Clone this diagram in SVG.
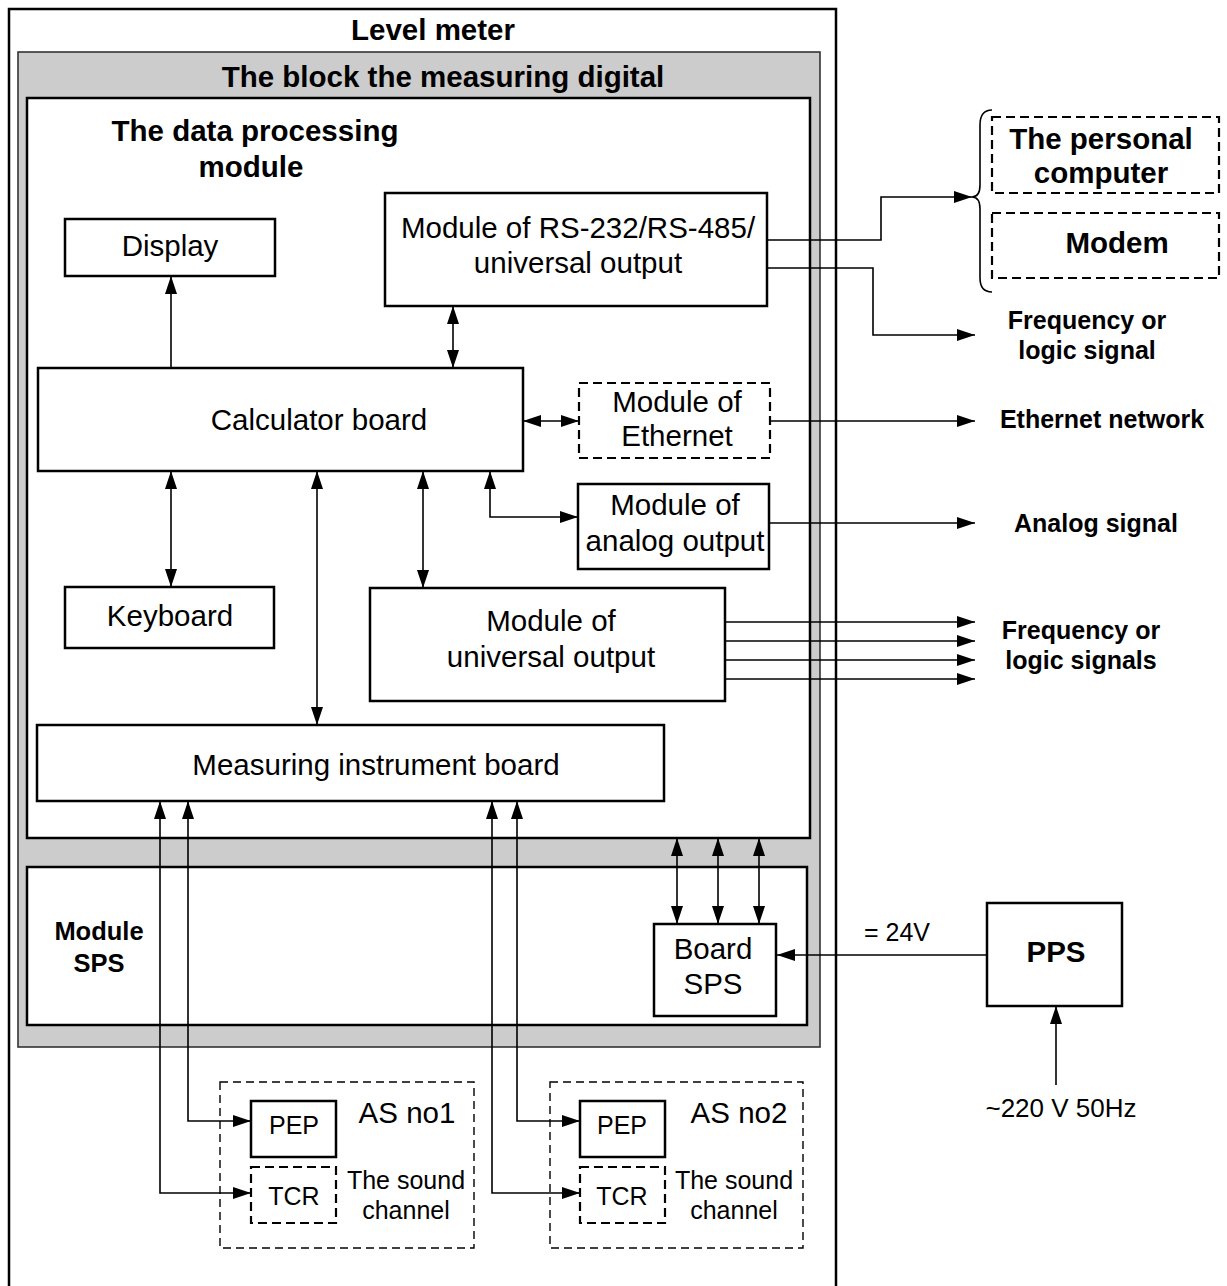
<svg xmlns="http://www.w3.org/2000/svg" width="1227" height="1286" viewBox="0 0 1227 1286">
<defs>
<marker id="ah" viewBox="0 0 18 12" refX="18" refY="6" markerWidth="18" markerHeight="12" orient="auto-start-reverse" markerUnits="userSpaceOnUse"><path d="M0,0 L18,6 L0,12 z" fill="#000"/></marker>
<style>
.box{fill:#fff;stroke:#000;stroke-width:2.5}
.dbox{fill:#fff;stroke:#000;stroke-width:2.2;stroke-dasharray:9,5}
.tbox{fill:none;stroke:#000;stroke-width:1.4;stroke-dasharray:8,5}
.ln{fill:none;stroke:#000;stroke-width:1.6}
.a{marker-end:url(#ah)}
.aa{marker-start:url(#ah);marker-end:url(#ah)}
text{font-family:"Liberation Sans",Arial,sans-serif;fill:#000;text-anchor:middle}
.r28{font-size:29.5px}
.b28{font-size:29.5px;font-weight:bold}
.b24{font-size:25px;font-weight:bold}
.b25{font-size:25.5px;font-weight:bold}
.r25{font-size:25px}
.r26{font-size:26px}
</style>
</defs>
<rect width="1227" height="1286" fill="#fff"/>
<g id="level-meter">
<path d="M9,1300 V9 H836 V1300" fill="none" stroke="#000" stroke-width="2.5"/>
<text class="b28" x="433" y="40">Level meter</text>
</g>
<g id="block-measuring-digital">
<rect x="18" y="52" width="802" height="995" fill="#cccccc" stroke="#333" stroke-width="1.6"/>
<text class="b28" x="443" y="87">The block the measuring digital</text>
</g>
<g id="data-processing-module">
<rect class="box" x="27" y="98" width="783" height="740"/>
<text class="b28" x="255" y="141">The data processing</text>
<text class="b28" x="251" y="177">module</text>
</g>
<g id="display"><rect class="box" x="65" y="219" width="210" height="57"/><text class="r28" x="170" y="256">Display</text></g>
<g id="rs-module"><rect class="box" x="385" y="193" width="382" height="113"/><text class="r28" x="578" y="238">Module of RS-232/RS-485/</text><text class="r28" x="578" y="273">universal output</text></g>
<g id="calculator-board"><rect class="box" x="38" y="368" width="485" height="103"/><text class="r28" x="319" y="430">Calculator board</text></g>
<g id="ethernet-module"><rect class="dbox" x="579" y="383" width="191" height="75"/><text class="r28" x="677" y="412">Module of</text><text class="r28" x="677" y="446">Ethernet</text></g>
<g id="analog-module"><rect class="box" x="578" y="484" width="191" height="85"/><text class="r28" x="675" y="515">Module of</text><text class="r28" x="675" y="551">analog output</text></g>
<g id="keyboard"><rect class="box" x="65" y="587" width="209" height="61"/><text class="r28" x="170" y="626">Keyboard</text></g>
<g id="universal-module"><rect class="box" x="370" y="588" width="355" height="113"/><text class="r28" x="551" y="631">Module of</text><text class="r28" x="551" y="667">universal output</text></g>
<g id="measuring-board"><rect class="box" x="37" y="725" width="627" height="76"/><text class="r28" x="376" y="775">Measuring instrument board</text></g>
<g id="module-sps"><rect class="box" x="27" y="867" width="780" height="158"/><text class="b25" x="99" y="940">Module</text><text class="b25" x="99" y="972">SPS</text></g>
<g id="board-sps"><rect class="box" x="654" y="924" width="122" height="92"/><text class="r28" x="713" y="959">Board</text><text class="r28" x="713" y="994">SPS</text></g>
<g id="pps"><rect class="box" x="987" y="903" width="135" height="103"/><text class="b28" x="1056" y="962">PPS</text></g>
<g id="pps-input"><text class="r26" x="1061" y="1117">~220 V 50Hz</text></g>
<g id="personal-computer"><rect class="dbox" x="992" y="117" width="227" height="76"/><text class="b28" x="1101" y="149">The personal</text><text class="b28" x="1101" y="183">computer</text></g>
<g id="modem"><rect class="dbox" x="992" y="213" width="227" height="65"/><text class="b28" x="1117" y="253">Modem</text></g>
<g id="output-labels">
<text class="b24" x="1087" y="329">Frequency or</text>
<text class="b24" x="1087" y="359">logic signal</text>
<text class="b24" x="1102" y="428">Ethernet network</text>
<text class="b24" x="1096" y="532">Analog signal</text>
<text class="b24" x="1081" y="639">Frequency or</text>
<text class="b24" x="1081" y="669">logic signals</text>
<text class="r25" x="897" y="941">= 24V</text>
</g>
<g id="as-no1">
<rect class="tbox" x="220" y="1082" width="254" height="166"/>
<rect class="box" x="251" y="1101" width="85" height="56"/>
<rect class="dbox" x="251" y="1167" width="85" height="56"/>
<text class="r25" x="294" y="1134">PEP</text>
<text class="r25" x="294" y="1205">TCR</text>
<text class="r28" x="407" y="1123">AS no1</text>
<text class="r25" x="406" y="1189">The sound</text>
<text class="r25" x="406" y="1219">channel</text>
</g>
<g id="as-no2">
<rect class="tbox" x="550" y="1082" width="253" height="166"/>
<rect class="box" x="580" y="1101" width="85" height="56"/>
<rect class="dbox" x="580" y="1167" width="85" height="56"/>
<text class="r25" x="622" y="1134">PEP</text>
<text class="r25" x="622" y="1205">TCR</text>
<text class="r28" x="739" y="1123">AS no2</text>
<text class="r25" x="734" y="1189">The sound</text>
<text class="r25" x="734" y="1219">channel</text>
</g>
<g id="connectors">
<path class="ln a" d="M171,368 V276"/>
<path class="ln aa" d="M453,306 V368"/>
<path class="ln aa" d="M523,421 H579"/>
<path class="ln aa" d="M171,471 V587"/>
<path class="ln aa" d="M317,471 V725"/>
<path class="ln aa" d="M423,471 V588"/>
<path class="ln aa" d="M490,471 V517 H578"/>
<path class="ln a" d="M767,240 H881 V197 H972"/>
<path class="ln a" d="M767,268 H873 V335 H975"/>
<path class="ln" d="M992,110 Q980,110 980,125 L980,185 Q980,197 972,197 Q980,197 980,209 L980,278 Q980,292 992,292"/>
<path class="ln a" d="M770,421 H975"/>
<path class="ln a" d="M769,523 H975"/>
<path class="ln a" d="M725,622 H975"/>
<path class="ln a" d="M725,641 H975"/>
<path class="ln a" d="M725,660 H975"/>
<path class="ln a" d="M725,679 H975"/>
<path class="ln aa" d="M677,838 V924"/>
<path class="ln aa" d="M718,838 V924"/>
<path class="ln aa" d="M759,838 V924"/>
<path class="ln a" d="M987,955 H777"/>
<path class="ln a" d="M1056,1085 V1006"/>
<path class="ln aa" d="M160,801 V1193 H251"/>
<path class="ln aa" d="M188,801 V1121 H251"/>
<path class="ln aa" d="M492,801 V1193 H580"/>
<path class="ln aa" d="M517,801 V1121 H580"/>
</g>
</svg>
